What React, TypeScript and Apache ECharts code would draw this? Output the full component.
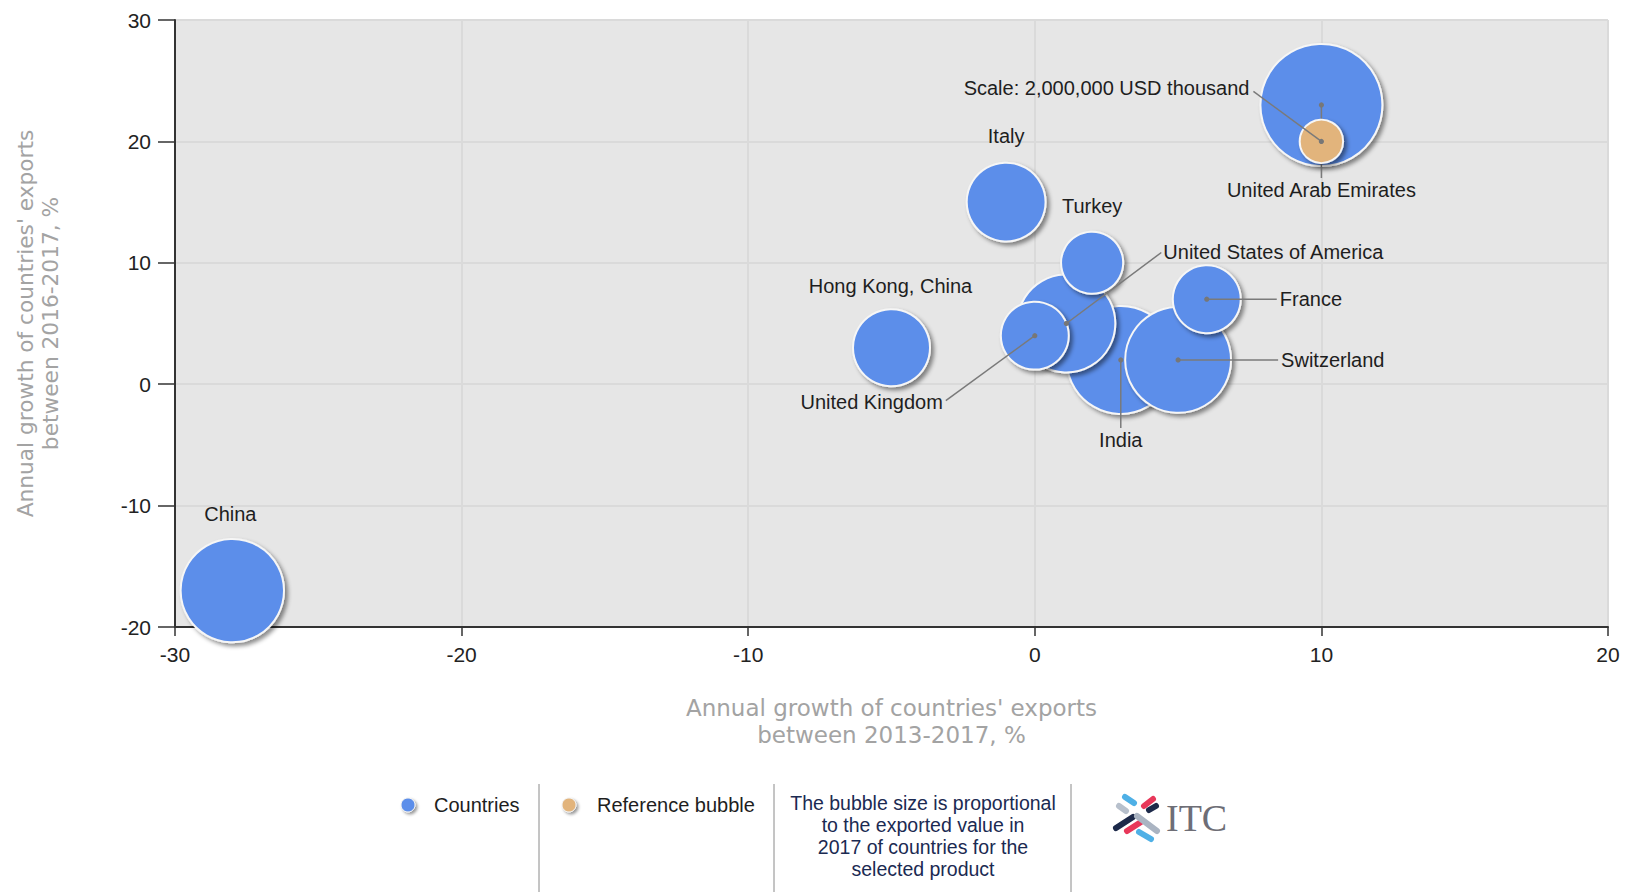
import React, { useEffect, useRef } from "react";
import * as echarts from "echarts";

// ---- Data ----
const countries = [
  "China",
  "United Arab Emirates",
  "Italy",
  "Turkey",
  "Hong Kong, China",
  "United Kingdom",
  "United States of America",
  "India",
  "Switzerland",
  "France",
];
// Annual growth of exports 2013-2017, %
const growth2013to2017 = [-28, 10, -1, 2, -5, 0, 1.1, 3, 5, 6];
// Annual growth of exports 2016-2017, %
const growth2016to2017 = [-17, 23, 15, 10, 3, 4, 5, 2, 2, 7];
// Exported value 2017, USD thousand
const exports2017 = [11350000, 15800000, 6600000, 4100000, 6300000, 4900000, 10200000, 12400000, 11900000, 4900000];

const referenceName = "Scale: 2,000,000 USD thousand";
const referenceX = [10];
const referenceY = [20];
const referenceValue = [2000000];

const xTicks = [-30, -20, -10, 0, 10, 20];
const yTicks = [-20, -10, 0, 10, 20, 30];

// ---- Label placement (pixel offsets from bubble centre) ----
type Lay = { tx: number; ty: number; align: string; line?: [number, number] };
const labelLayout: Record<string, Lay> = {
  China: { tx: -2, ty: -77, align: "center" },
  "United Arab Emirates": { tx: 0, ty: 85, align: "center", line: [0, 73] },
  Italy: { tx: 0, ty: -66, align: "center" },
  Turkey: { tx: 0, ty: -57, align: "center" },
  "Hong Kong, China": { tx: -1, ty: -62, align: "center" },
  "United Kingdom": { tx: -92, ty: 66, align: "right", line: [-89, 65] },
  "United States of America": { tx: 97, ty: -72, align: "left", line: [95, -71] },
  India: { tx: 0, ty: 80, align: "center", line: [0, 68] },
  Switzerland: { tx: 103, ty: 0, align: "left", line: [100, 0] },
  France: { tx: 73, ty: 0, align: "left", line: [70, 0] },
};
const referenceLayout: Lay = { tx: -72, ty: -53, align: "right", line: [-68, -50] };

const LABEL_FONT = '"Liberation Sans", Arial, sans-serif';
const NAME_FONT = '"DejaVu Sans", Verdana, sans-serif';
const BLUE = "#5b8eea";
const TAN = "#e2b47c";

const sizeOf = (v: number) => 43.4 * Math.sqrt(v / referenceValue[0]);

const bubbleStyle = (color: string) => ({
  color,
  borderColor: "#f6f6f6",
  borderWidth: 2,
  shadowColor: "rgba(0,0,0,0.45)",
  shadowBlur: 4,
  shadowOffsetX: 3,
  shadowOffsetY: 3,
  opacity: 1,
});

function makeLabelRender(names: string[], layouts: Lay[]) {
  return (params: any, api: any) => {
    const i = params.dataIndex;
    const c = api.coord([api.value(0), api.value(1)]);
    const lay = layouts[i];
    const children: any[] = [];
    if (lay.line) {
      children.push({
        type: "line",
        shape: { x1: c[0], y1: c[1], x2: c[0] + lay.line[0], y2: c[1] + lay.line[1] },
        style: { stroke: "#7a7a7a", lineWidth: 1.5 },
      });
      children.push({ type: "circle", shape: { cx: c[0], cy: c[1], r: 2.6 }, style: { fill: "#777" } });
    }
    children.push({
      type: "text",
      x: c[0] + lay.tx,
      y: c[1] + lay.ty,
      style: {
        text: names[i],
        fill: "#1e1e1e",
        fontSize: 20,
        fontFamily: LABEL_FONT,
        align: lay.align,
        verticalAlign: "middle",
      },
    });
    return { type: "group", children };
  };
}

export default function App() {
  const ref = useRef<HTMLDivElement>(null);

  useEffect(() => {
    if (!ref.current) return;
    const chart = echarts.init(ref.current, null, { renderer: "svg" });

    const order = exports2017.map((_, i) => i).sort((a, b) => exports2017[b] - exports2017[a]);
    const bubbleData = order.map((i) => ({
      name: countries[i],
      value: [growth2013to2017[i], growth2016to2017[i], exports2017[i]],
    }));
    const labelData = countries.map((_, i) => [growth2013to2017[i], growth2016to2017[i]]);
    const labelLays = countries.map((c) => labelLayout[c]);

    const axisLabelStyle = { color: "#222", fontSize: 21, fontFamily: LABEL_FONT };

    // ITC logo bars
    const bar = (x1: number, y1: number, x2: number, y2: number, color: string) => ({
      type: "line",
      shape: { x1, y1, x2, y2 },
      style: { stroke: color, lineWidth: 6, lineCap: "round" },
      silent: true,
    });

    const option: any = {
      animation: false,
      backgroundColor: "#ffffff",
      grid: {
        left: 175,
        right: 21,
        top: 20,
        bottom: 265,
        show: true,
        backgroundColor: "#e6e6e6",
        borderWidth: 0,
      },
      xAxis: {
        type: "value",
        min: xTicks[0],
        max: xTicks[xTicks.length - 1],
        interval: 10,
        name: "Annual growth of countries' exports\nbetween 2013-2017, %",
        nameLocation: "middle",
        nameGap: 67,
        nameTextStyle: { color: "#a3a3a3", fontSize: 23, fontFamily: NAME_FONT, lineHeight: 27 },
        axisLine: { show: true, onZero: false, lineStyle: { color: "#333", width: 2 } },
        axisTick: { show: true, length: 9, lineStyle: { color: "#333", width: 1.5 } },
        axisLabel: { ...axisLabelStyle, margin: 17 },
        splitLine: { show: true, lineStyle: { color: "#dadada", width: 2 } },
      },
      yAxis: {
        type: "value",
        min: yTicks[0],
        max: yTicks[yTicks.length - 1],
        interval: 10,
        name: "Annual growth of countries' exports\nbetween 2016-2017, %",
        nameLocation: "middle",
        nameGap: 112,
        nameTextStyle: { color: "#a3a3a3", fontSize: 21.7, fontFamily: NAME_FONT, lineHeight: 25 },
        axisLine: { show: true, onZero: false, lineStyle: { color: "#333", width: 2 } },
        axisTick: { show: true, length: 17, lineStyle: { color: "#333", width: 1.5 } },
        axisLabel: { ...axisLabelStyle, margin: 24 },
        splitLine: { show: true, lineStyle: { color: "#dadada", width: 2 } },
      },
      series: [
        {
          type: "scatter",
          z: 2,
          data: bubbleData,
          symbolSize: (v: number[]) => sizeOf(v[2]),
          itemStyle: bubbleStyle(BLUE),
          silent: true,
        },
        {
          type: "custom",
          z: 3,
          data: labelData,
          renderItem: makeLabelRender(countries, labelLays),
          silent: true,
        },
        {
          type: "scatter",
          z: 4,
          data: referenceX.map((x, i) => [x, referenceY[i], referenceValue[i]]),
          symbolSize: (v: number[]) => sizeOf(v[2]),
          itemStyle: bubbleStyle(TAN),
          silent: true,
        },
        {
          type: "custom",
          z: 5,
          data: referenceX.map((x, i) => [x, referenceY[i]]),
          renderItem: makeLabelRender([referenceName], [referenceLayout]),
          silent: true,
        },
      ],
      graphic: [
        // legend: countries
        {
          type: "circle",
          shape: { cx: 408, cy: 805, r: 7 },
          style: { fill: BLUE, stroke: "#f2f2f2", lineWidth: 1, shadowColor: "rgba(0,0,0,0.4)", shadowBlur: 3, shadowOffsetX: 2, shadowOffsetY: 2 },
        },
        {
          type: "text",
          x: 434,
          y: 805,
          style: { text: "Countries", fill: "#1e1e1e", fontSize: 20, fontFamily: LABEL_FONT, verticalAlign: "middle" },
        },
        { type: "line", shape: { x1: 539, y1: 784, x2: 539, y2: 892 }, style: { stroke: "#8a8a8a", lineWidth: 1 } },
        {
          type: "circle",
          shape: { cx: 569, cy: 805, r: 7 },
          style: { fill: TAN, stroke: "#f2f2f2", lineWidth: 1, shadowColor: "rgba(0,0,0,0.4)", shadowBlur: 3, shadowOffsetX: 2, shadowOffsetY: 2 },
        },
        {
          type: "text",
          x: 597,
          y: 805,
          style: { text: "Reference bubble", fill: "#1e1e1e", fontSize: 20, fontFamily: LABEL_FONT, verticalAlign: "middle" },
        },
        { type: "line", shape: { x1: 774, y1: 784, x2: 774, y2: 892 }, style: { stroke: "#8a8a8a", lineWidth: 1 } },
        {
          type: "text",
          x: 923,
          y: 792,
          style: {
            text: "The bubble size is proportional\nto the exported value in\n2017 of countries for the\nselected product",
            fill: "#1b2a52",
            fontSize: 19.5,
            lineHeight: 22,
            fontFamily: LABEL_FONT,
            align: "center",
            verticalAlign: "top",
          },
        },
        { type: "line", shape: { x1: 1071, y1: 784, x2: 1071, y2: 892 }, style: { stroke: "#8a8a8a", lineWidth: 1 } },
        // ITC logo
        bar(1125, 797, 1134, 803, "#4fb0e6"),
        bar(1119, 806, 1126, 811, "#b7c0cc"),
        bar(1144, 806, 1153, 799, "#e8385a"),
        bar(1149, 810, 1156, 806, "#1d2a4a"),
        bar(1116, 828, 1133, 817, "#1d2a4a"),
        bar(1127, 831, 1141, 822, "#e8385a"),
        bar(1137, 816, 1157, 831, "#aab4c2"),
        bar(1139, 832, 1151, 839, "#4fb0e6"),
        {
          type: "text",
          x: 1166,
          y: 818,
          style: { text: "ITC", fill: "#6e6e76", fontSize: 38, fontFamily: '"Liberation Serif", "Times New Roman", serif', verticalAlign: "middle" },
        },
      ],
    };

    chart.setOption(option);
    return () => chart.dispose();
  }, []);

  return (
    <div
      ref={ref}
      style={{ position: "fixed", left: 0, top: 0, width: 1629, height: 892, background: "#fff" }}
    />
  );
}
